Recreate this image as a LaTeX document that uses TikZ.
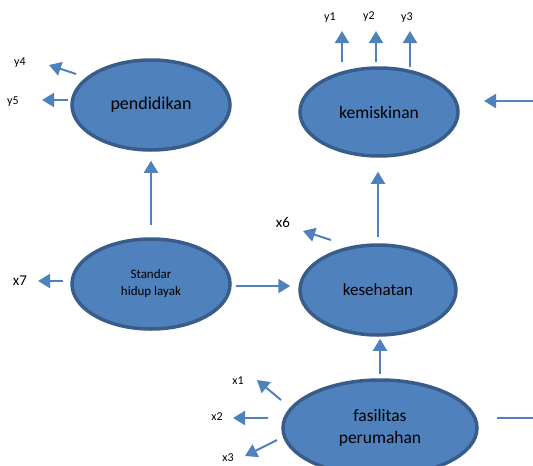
\documentclass[tikz,border=0pt]{standalone}
\usepackage{fontspec}
\setmainfont{Carlito}
\usepackage{tikz}
\usetikzlibrary{arrows.meta,shapes.geometric}
\definecolor{isiBiru}{HTML}{4F81BD}
\definecolor{tepiBiru}{HTML}{385D8A}
\tikzset{
    laten/.style={ellipse, draw=tepiBiru, line width=3.5pt, fill=isiBiru,
        inner sep=0pt, align=center, text=black},
    panah/.style={isiBiru, line width=2pt,
        -{Triangle[width=14pt,length=12pt]}},
    garis/.style={isiBiru, line width=2pt},
    indikator/.style={font=\fontsize{12}{14}\selectfont, inner sep=1pt}
}

\begin{document}
\begin{tikzpicture}[x=1pt, y=-1pt]

\useasboundingbox (0,0) rectangle (533,466);

% Variabel laten
\node[laten, minimum width=158pt, minimum height=90pt,
    font=\fontsize{18}{20}\selectfont] (pend) at (151,105) {pendidikan};
\node[laten, minimum width=158pt, minimum height=88pt,
    font=\fontsize{17.5}{20}\selectfont] (kem) at (379,112) {kemiskinan};
\node[laten, minimum width=158pt, minimum height=90pt,
    font=\fontsize{13}{17}\selectfont] (std) at (151,284) {Standar\\hidup layak};
\node[laten, minimum width=156pt, minimum height=90pt,
    font=\fontsize{17}{20}\selectfont] (kes) at (378,290) {kesehatan};
\node[laten, minimum width=194pt, minimum height=96pt,
    font=\fontsize{17.5}{22}\selectfont] (fas) at (380,428) {fasilitas\\perumahan};

% Ujung panah indikator
\coordinate (y1u) at (342,31);
\coordinate (y2u) at (376,31);
\coordinate (y3u) at (410,31);
\coordinate (y4u) at (49,65);
\coordinate (y5u) at (42,100);
\coordinate (x6u) at (303,231);
\coordinate (x7u) at (38,281);
\coordinate (x1u) at (257,380);
\coordinate (x2u) at (233,418);
\coordinate (x3u) at (245,456);
\coordinate (kemL) at (533,101);
\coordinate (fasR) at (533,418);

% Label indikator
\node[indikator] (y1) at (330,18) {y1};
\node[indikator] (y2) at (369,17) {y2};
\node[indikator] (y3) at (407,18) {y3};
\node[indikator] (y4) at (20,63) {y4};
\node[indikator] (y5) at (13,102) {y5};
\node[indikator, font=\fontsize{15}{17}\selectfont] (x6) at (283,222) {x6};
\node[indikator, font=\fontsize{15}{17}\selectfont] (x7) at (20,281) {x7};
\node[indikator] (x1) at (238,381) {x1};
\node[indikator] (x2) at (217,417) {x2};
\node[indikator] (x3) at (228,458) {x3};

% Indikator kemiskinan
\draw[panah, shorten <=4pt] (y1u |- kem.north) -- (y1u);
\draw[panah, shorten <=4pt] (y2u |- kem.north) -- (y2u);
\draw[panah, shorten <=-1pt] (y3u |- kem.north) -- (y3u);

% Indikator pendidikan
\draw[panah] (76,74) -- (y4u);
\draw[panah] (68,100) -- (y5u);

% Indikator lain
\draw[panah] (331,240) -- (x6u);
\draw[panah] (63,281) -- (x7u);
\draw[panah] (281,400) -- (x1u);
\draw[panah] (268,418) -- (x2u);
\draw[panah] (277,440) -- (x3u);

% Hubungan antar laten
\draw[panah, shorten <=12pt, shorten >=9pt] (std.north) -- (pend.south);
\draw[panah, shorten <=6pt, shorten >=14pt] (kes.north) -- (kes.north |- kem.south);
\draw[panah, shorten <=4pt, shorten >=8pt]
    ([yshift=-2pt]std.east) -- ([yshift=-2pt]std.east -| kes.west);
\draw[panah, shorten <=4pt, shorten >=2pt] (fas.north) -- (fas.north |- kes.south);

% Dari luar
\draw[panah] (kemL) -- (484,101);
\draw[garis] (497,418) -- (fasR);

\end{tikzpicture}
\end{document}
